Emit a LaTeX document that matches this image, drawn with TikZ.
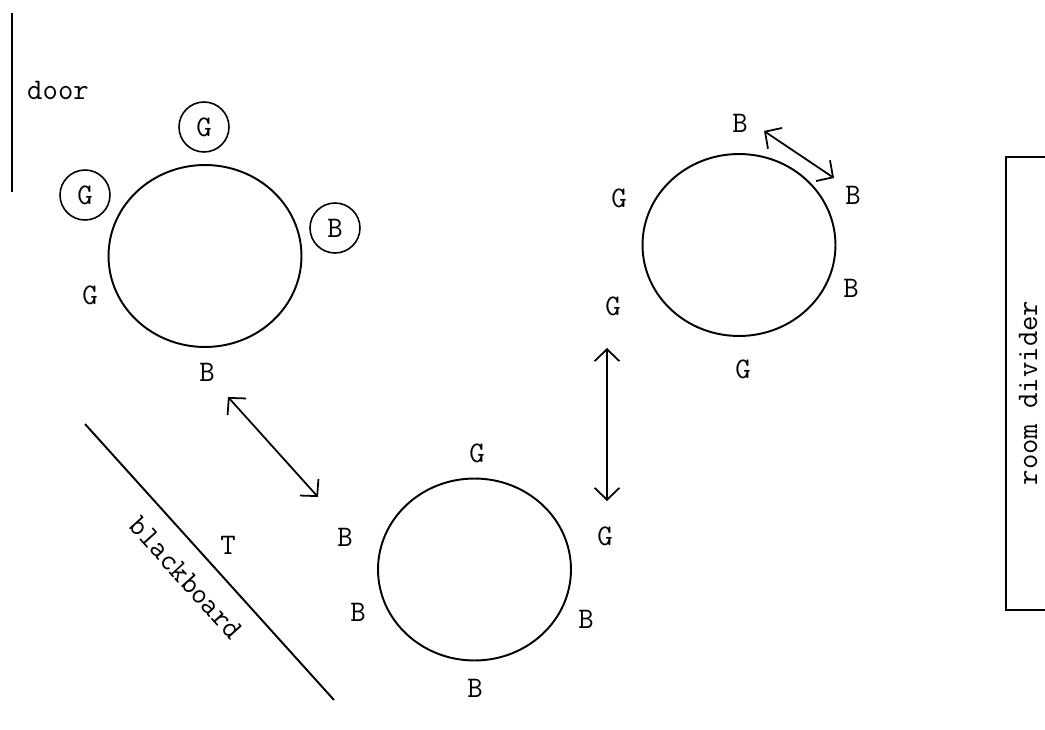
\documentclass[tikz,border=0pt]{standalone}
\usetikzlibrary{arrows.meta,positioning,shapes.geometric}

\begin{document}
\begin{tikzpicture}[
  x=0.02cm, y=-0.02cm,
  font=\ttfamily\fontsize{17}{20}\selectfont,
  ring/.style={ellipse, draw, line width=1.1pt, minimum width=3.86cm, minimum height=3.64cm, inner sep=0pt},
  seat/.style={inner sep=1pt},
  circled/.style={circle, draw, line width=0.9pt, minimum size=1cm, inner sep=0pt},
  trade/.style={{Straight Barb[length=2.4mm,width=5mm]}-{Straight Barb[length=2.4mm,width=5mm]}, line width=1pt},
  wall/.style={line width=1.1pt}
]
\useasboundingbox (0,0) rectangle (1045,730);

% door and blackboard
\draw[wall] (12,13) -- (12,192);
\node (door) at (58,90) {door};
\draw[wall] (85,424) -- (334,700);
\node[rotate=-48, inner sep=1pt] (board) at (186,578) {blackboard};
\node[seat] (teacher) at (228,545) {T};

% room divider
\draw[line width=1.6pt] (1046,157) -- (1006,157) -- (1006,610) -- (1046,610);
\node[rotate=90] (divider) at (1028,393) {room divider};

% group 1
\node[ring] (t1) at (205,256) {};
\node[circled] (t1g1) at (204,127) {G};
\node[circled] (t1g2) at (85,195) {G};
\node[circled] (t1b1) at (335,228) {B};
\node[seat] (t1g3) at (90,295) {G};
\node[seat] (t1b2) at (207,372) {B};

% group 2
\node[ring] (t2) at (739,245) {};
\node[seat] (t2b1) at (740,123) {B};
\node[seat] (t2b2) at (853,195) {B};
\node[seat] (t2b3) at (851,288) {B};
\node[seat] (t2g1) at (619,198) {G};
\node[seat] (t2g2) at (613,306) {G};
\node[seat] (t2g3) at (743,369) {G};

% group 3
\node[ring] (t3) at (474.5,569.5) {};
\node[seat] (t3g1) at (477,453) {G};
\node[seat] (t3g2) at (605,536) {G};
\node[seat] (t3b1) at (345,537) {B};
\node[seat] (t3b2) at (358,612) {B};
\node[seat] (t3b3) at (586,619) {B};
\node[seat] (t3b4) at (475,688) {B};

% moves
\coordinate (m1a) at (228,397);
\coordinate (m1b) at (318,497);
\coordinate (m2a) at (607,348);
\coordinate (m2b) at (607,501);
\coordinate (m3a) at (764,131);
\coordinate (m3b) at (834,178);
\draw[trade] (m1a) -- (m1b);
\draw[trade] (m2a) -- (m2b);
\draw[trade] (m3a) -- (m3b);
\end{tikzpicture}
\end{document}
